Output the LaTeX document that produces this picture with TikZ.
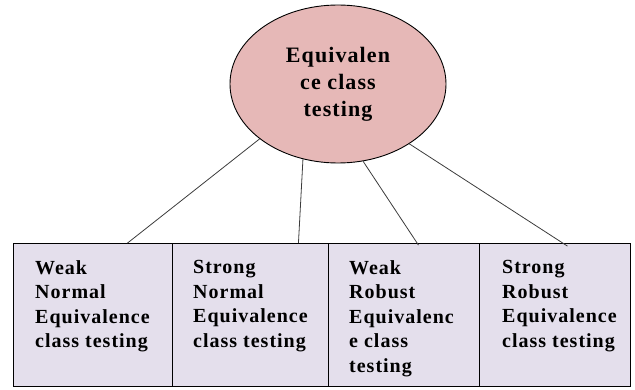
\documentclass[tikz,border=0pt]{standalone}
\usepackage{fontspec}
\setmainfont{Liberation Serif}
\newfontfamily\labelfont[LetterSpace=5]{Liberation Serif}
\usetikzlibrary{shapes.geometric,calc}
\definecolor{rootfill}{RGB}{230,184,183}
\definecolor{leaffill}{RGB}{228,223,236}
\definecolor{edgegray}{RGB}{60,60,60}
\tikzset{
  root/.style={ellipse, draw=black, line width=0.9pt, fill=rootfill,
    minimum width=216pt, minimum height=158pt, inner sep=0pt,
    align=center, font=\labelfont\fontsize{22}{27}\selectfont\bfseries},
  leaf/.style={rectangle, draw=black, line width=0.9pt, fill=leaffill,
    minimum height=143pt, inner sep=0pt, anchor=south west},
  leaftext/.style={anchor=north west, inner sep=0pt, align=left,
    font=\labelfont\fontsize{20}{24.5}\selectfont\bfseries},
  link/.style={draw=edgegray, line width=0.8pt}
}
\begin{document}
\begin{tikzpicture}[x=1pt,y=1pt]
\useasboundingbox (0,0) rectangle (635,389);

% root of the classification
\node[root] (e) at (338,305) {Equivalen\\ce class\\testing};

% the four variants
\node[leaf, minimum width=159pt] (b1) at (13,2) {};
\node[leaf, minimum width=156pt] (b2) at (172,2) {};
\node[leaf, minimum width=151pt] (b3) at (328,2) {};
\node[leaf, minimum width=151pt] (b4) at (479,2) {};

\node[leaftext] (t1) at ($(b1.north west)+(22,-17)$) {Weak\\Normal\\Equivalence\\class testing};
\node[leaftext] (t2) at ($(b2.north west)+(21,-17)$) {Strong\\Normal\\Equivalence\\class testing};
\node[leaftext] (t3) at ($(b3.north west)+(21,-17)$) {Weak\\Robust\\Equivalenc\\e class\\testing};
\node[leaftext] (t4) at ($(b4.north west)+(23,-17)$) {Strong\\Robust\\Equivalence\\class testing};

% connectors
\draw[link] (e.215) -- ($(b1.north)+(34.5,0)$);
\draw[link] (e.245) -- ($(b2.north)+(48,0)$);
\draw[link] (e.288) -- ($(b3.north)+(14.5,-2)$);
\draw[link] (e.320) -- ($(b4.north)+(12.5,-3)$);
\end{tikzpicture}
\end{document}
